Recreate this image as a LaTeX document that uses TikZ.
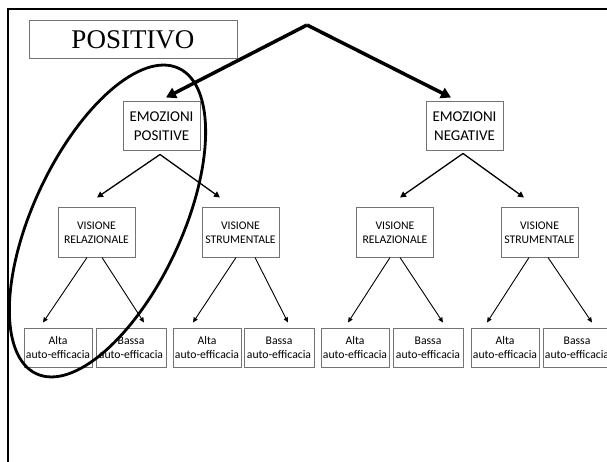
\documentclass[tikz,border=0pt]{standalone}
\usepackage{fontspec}
\newfontfamily\calib{Carlito}
\newfontfamily\timesf{Liberation Serif}
\usetikzlibrary{arrows.meta}
\definecolor{boxgray}{gray}{0.45}
\tikzset{
  box/.style={draw=boxgray, line width=1pt, fill=white, align=center,
    inner sep=0pt, rectangle},
  smalltext/.style={font={\calib\fontsize{11.7}{14}\selectfont}},
  midtext/.style={font={\calib\fontsize{15}{19}\selectfont}},
  bigarrow/.style={line width=3.5pt, -{Triangle[length=10pt,width=11pt]}},
  midarrow/.style={line width=1.3pt, -{Triangle[length=6pt,width=6pt]}},
  thinarrow/.style={line width=0.9pt, -{Triangle[length=5pt,width=4.5pt]}},
  leafbox/.style={box, smalltext, minimum width=68pt, minimum height=39pt},
  visbox/.style={box, smalltext, minimum width=77pt, minimum height=49pt},
  emobox/.style={box, midtext, minimum width=77pt, minimum height=49pt}
}
\begin{document}
\begin{tikzpicture}[x=1pt, y=-1pt]
\useasboundingbox (0,0) rectangle (607,462);
\clip (0,0) rectangle (607,462);
\fill[white] (0,0) rectangle (607,462);

% frame (open to the right and bottom)
\draw[line width=2pt] (8,475) -- (8,9) -- (620,9);

% title
\node[box, font={\timesf\fontsize{27}{30}\selectfont},
      minimum width=208pt, minimum height=38pt] (title) at (133,40) {POSITIVO};

% first level
\coordinate (top) at (307,25);
\node[emobox] (ep) at (161.5,126.5) {EMOZIONI\\POSITIVE};
\node[emobox] (en) at (464.5,126.5) {EMOZIONI\\NEGATIVE};

% second level
\node[visbox] (vr1) at (96.5,232.5)  {VISIONE\\RELAZIONALE};
\node[visbox] (vs1) at (240.5,232.5) {VISIONE\\STRUMENTALE};
\node[visbox] (vr2) at (395,232.5)   {VISIONE\\RELAZIONALE};
\node[visbox] (vs2) at (539.5,232.5) {VISIONE\\STRUMENTALE};

% leaves
\node[leafbox] (a1) at (58,347.5)  {Alta\\auto-efficacia};
\node[leafbox, minimum width=70pt] (b1) at (131,347.5) {Bassa\\auto-efficacia};
\node[leafbox] (a2) at (207,347.5) {Alta\\auto-efficacia};
\node[leafbox, minimum width=70pt] (b2) at (279,347.5) {Bassa\\auto-efficacia};
\node[leafbox] (a3) at (355,347.5) {Alta\\auto-efficacia};
\node[leafbox, minimum width=70pt] (b3) at (428,347.5) {Bassa\\auto-efficacia};
\node[leafbox] (a4) at (505,347.5) {Alta\\auto-efficacia};
\node[leafbox] (b4) at (577,347.5) {Bassa\\auto-efficacia};

% bold arrows from the top
\draw[bigarrow] (top) -- ([xshift=4.5pt,yshift=4pt]ep.north);
\draw[bigarrow] (top) -- ([xshift=-13.5pt,yshift=4pt]en.north);

% emotions to visions
\draw[midarrow] ([xshift=-1.5pt,yshift=-3pt]ep.south) -- ([xshift=0.5pt,yshift=10pt]vr1.north);
\draw[midarrow] ([xshift=-1.5pt,yshift=-3pt]ep.south) -- ([xshift=-20.5pt,yshift=10pt]vs1.north);
\draw[midarrow] ([xshift=-1.5pt,yshift=-2pt]en.south) -- ([xshift=5pt,yshift=10pt]vr2.north);
\draw[midarrow] ([xshift=-1.5pt,yshift=-2pt]en.south) -- ([xshift=-15.5pt,yshift=10pt]vs2.north);

% visions to self-efficacy
\draw[thinarrow] ([xshift=-9.5pt]vr1.south) -- ([xshift=-15pt,yshift=5pt]a1.north);
\draw[thinarrow] ([xshift=5.5pt]vr1.south)  -- ([xshift=13pt,yshift=5pt]b1.north);
\draw[thinarrow] ([xshift=-4.5pt]vs1.south) -- ([xshift=-14pt,yshift=5pt]a2.north);
\draw[thinarrow] ([xshift=14.5pt]vs1.south) -- ([xshift=9pt,yshift=5pt]b2.north);
\draw[thinarrow] ([xshift=-5pt]vr2.south)   -- ([xshift=-7pt,yshift=5pt]a3.north);
\draw[thinarrow] ([xshift=5pt]vr2.south)    -- ([xshift=15pt,yshift=5pt]b3.north);
\draw[thinarrow] ([xshift=-10.5pt]vs2.south) -- ([xshift=-18pt,yshift=5pt]a4.north);
\draw[thinarrow] ([xshift=8.5pt]vs2.south)  -- ([xshift=15pt,yshift=5pt]b4.north);

% hand-drawn ring around the positive branch
\coordinate (ringc) at (107.5,221);
\draw[line width=2.8pt, rotate around={65:(ringc)}]
  (ringc) ellipse [x radius=168.5pt, y radius=74.5pt];
\end{tikzpicture}
\end{document}
